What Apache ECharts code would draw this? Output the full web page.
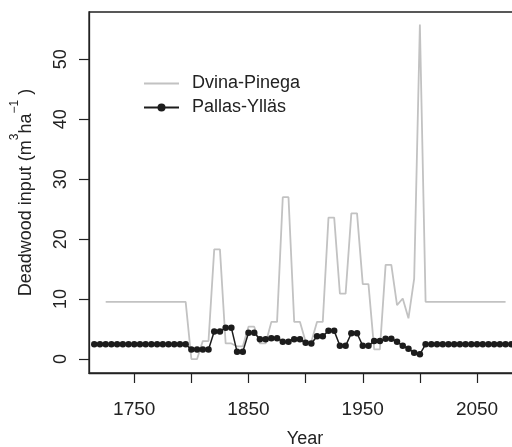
<!DOCTYPE html>
<html>
<head>
<meta charset="utf-8">
<script src="https://cdn.jsdelivr.net/npm/echarts@6/dist/echarts.min.js"></script>
<style>
  html, body { margin: 0; padding: 0; background: #fff; }
  #chart { width: 512px; height: 447px; }
</style>
</head>
<body>
<div id="chart"></div>
<script>
// 年份 (5-year steps)
const years = [
  1715, 1720, 1725, 1730, 1735, 1740, 1745, 1750, 1755, 1760, 1765, 1770, 1775, 1780, 1785, 1790, 1795,
  1800, 1805, 1810, 1815, 1820, 1825, 1830, 1835, 1840, 1845, 1850, 1855, 1860, 1865, 1870, 1875,
  1880, 1885, 1890, 1895, 1900, 1905, 1910, 1915, 1920, 1925, 1930, 1935, 1940, 1945, 1950, 1955,
  1960, 1965, 1970, 1975, 1980, 1985, 1990, 1995, 2000,
  2005, 2010, 2015, 2020, 2025, 2030, 2035, 2040, 2045, 2050, 2055, 2060, 2065, 2070, 2075, 2080, 2085
]

// Dvina-Pinega
const dvinaPinega = [
  null, null, 9.55, 9.55, 9.55, 9.55, 9.55, 9.55, 9.55, 9.55, 9.55, 9.55, 9.55, 9.55, 9.55, 9.55, 9.55,
  0, 0, 3.0, 3.0, 18.3, 18.3, 2.6, 2.6, 2.1, 2.1, 5.4, 5.4, 2.6, 2.6, 6.2, 6.2,
  27, 27, 6.2, 6.2, 2.9, 2.9, 6.2, 6.2, 23.6, 23.6, 10.9, 10.9, 24.3, 24.3, 12.5, 12.5,
  1.6, 1.6, 15.7, 15.7, 9.0, 10.1, 6.8, 13.4, 55.8,
  9.55, 9.55, 9.55, 9.55, 9.55, 9.55, 9.55, 9.55, 9.55, 9.55, 9.55, 9.55, 9.55, 9.55, 9.55, null, null
]

// Pallas-Ylläs
const pallasYllas = [
  2.45, 2.45, 2.45, 2.45, 2.45, 2.45, 2.45, 2.45, 2.45, 2.45, 2.45, 2.45, 2.45, 2.45, 2.45, 2.45, 2.45,
  1.6, 1.6, 1.6, 1.6, 4.6, 4.6, 5.2, 5.2, 1.2, 1.2, 4.4, 4.4, 3.3, 3.3, 3.45, 3.45,
  2.9, 2.9, 3.3, 3.3, 2.7, 2.6, 3.8, 3.8, 4.7, 4.7, 2.2, 2.2, 4.3, 4.3, 2.2, 2.2,
  3.0, 3.0, 3.4, 3.4, 2.9, 2.2, 1.7, 1.05, 0.8,
  2.45, 2.45, 2.45, 2.45, 2.45, 2.45, 2.45, 2.45, 2.45, 2.45, 2.45, 2.45, 2.45, 2.45, 2.45, 2.45, 2.45
]

// 刻度
const xTicks = [1750, 1800, 1850, 1900, 1950, 2000, 2050]
const xLabels = [1750, 1850, 1950, 2050]
const yTicks = [0, 10, 20, 30, 40, 50]

const pairs = (vals) => years.map((y, i) => [y, vals[i]])

const fontFamily = "'Liberation Sans', Arial, sans-serif"
const textColor = "#222"

const chart = echarts.init(document.getElementById("chart"), null, { renderer: "canvas" })

let option = {
  backgroundColor: "#fff",
  animation: false,
  textStyle: { fontFamily: fontFamily, color: textColor },
  grid: {
    left: 89,
    top: 12,
    right: -9,
    bottom: 74,
    containLabel: false,
    outerBoundsMode: "none",
    show: true,
    borderColor: "#222",
    borderWidth: 1.3
  },
  legend: {
    orient: "vertical",
    left: 138,
    top: 69,
    itemWidth: 35,
    itemHeight: 10,
    itemGap: 5,
    data: [
      { name: "Dvina-Pinega", itemStyle: { opacity: 0 } },
      { name: "Pallas-Ylläs" }
    ],
    textStyle: {
      fontSize: 18,
      fontFamily: fontFamily,
      color: textColor,
      lineHeight: 19,
      padding: [0, 0, 0, 8]
    }
  },
  xAxis: {
    type: "value",
    min: 1710.4,
    max: 2088.5,
    name: "Year",
    nameLocation: "middle",
    nameGap: 57,
    nameTextStyle: { fontSize: 18, color: textColor, fontFamily: fontFamily },
    axisLine: { show: true, onZero: false, lineStyle: { color: "#222", width: 1.3 } },
    axisTick: { show: true, length: 10, customValues: xTicks, lineStyle: { color: "#222", width: 1.2 } },
    axisLabel: {
      customValues: xLabels,
      fontSize: 19,
      margin: 27,
      color: textColor,
      fontFamily: fontFamily,
      formatter: (v) => String(v)
    },
    splitLine: { show: false }
  },
  yAxis: {
    type: "value",
    min: -2.33,
    max: 57.9,
    name: "{n|Deadwood input (m}{s|3}{n|ha}{s|\u22121}{n| )}",
    nameLocation: "middle",
    nameGap: 54,
    nameRotate: 90,
    nameTextStyle: {
      rich: {
        n: { fontSize: 18, color: textColor, fontFamily: fontFamily, lineHeight: 26, verticalAlign: "bottom" },
        s: { fontSize: 12, color: textColor, fontFamily: fontFamily, lineHeight: 26, verticalAlign: "top" }
      }
    },
    axisLine: { show: true, onZero: false, lineStyle: { color: "#222", width: 1.3 } },
    axisTick: { show: true, length: 10, customValues: yTicks, lineStyle: { color: "#222", width: 1.2 } },
    axisLabel: {
      customValues: yTicks,
      rotate: 90,
      fontSize: 18,
      margin: 19,
      color: textColor,
      fontFamily: fontFamily,
      formatter: (v) => String(v)
    },
    splitLine: { show: false }
  },
  series: [
    {
      name: "Dvina-Pinega",
      type: "line",
      data: pairs(dvinaPinega),
      symbol: "none",
      connectNulls: false,
      lineStyle: { color: "#c2c2c2", width: 1.8 },
      itemStyle: { color: "#c2c2c2" },
      z: 2
    },
    {
      name: "Pallas-Ylläs",
      type: "line",
      data: pairs(pallasYllas),
      symbol: "circle",
      symbolSize: 6.5,
      showSymbol: true,
      lineStyle: { color: "#1c1c1c", width: 1.5 },
      itemStyle: { color: "#1c1c1c" },
      z: 3
    }
  ]
}

chart.setOption(option)
</script>
</body>
</html>
